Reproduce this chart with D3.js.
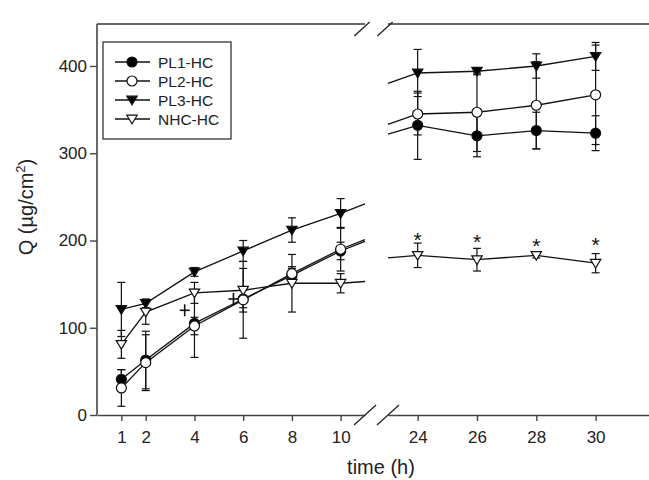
<!DOCTYPE html>
<html>
<head>
<meta charset="utf-8">
<script src="https://cdn.jsdelivr.net/npm/d3@7"></script>
<style>
  body { margin: 0; background: #fff; }
  svg { display: block; font-family: "Liberation Sans", Arial, sans-serif; }
</style>
</head>
<body>
<svg id="chart" width="649" height="480"></svg>
<script>
// time points (h), left and right of the axis break
var times = [1, 2, 4, 6, 8, 10, 24, 26, 28, 30];
var leftTicks = [1, 2, 4, 6, 8, 10];
var rightTicks = [24, 26, 28, 30];
var yTicks = [0, 100, 200, 300, 400];

// Q (ug/cm2) per formulation, with error bars
var pl1 = [41, 63, 105, 133, 160, 188, 332, 320, 326, 323];
var pl1Err = [11, 33, 39, 10, 8, 10, 39, 24, 21, 20];
var pl2 = [31, 60, 102, 132, 162, 190, 345, 347, 355, 367];
var pl2Err = [21, 32, 10, 44, 8, 25, 24, 45, 50, 57];
var pl3 = [121, 128, 164, 188, 212, 231, 392, 394, 400, 411];
var pl3Err = [31, 5, 5, 12, 14, 17, 27, 4, 14, 16];
var nhc = [81, 118, 140, 143, 151, 151, 183, 178, 183, 174];
var nhcErr = [16, 14, 12, 25, 33, 11, 14, 13, 3, 11];

// line stubs running into the break (t = 11 on the left, t = 23 on the right)
var stubLeft = [199, 201, 242, 153];
var stubRight = [322, 333, 380, 180];

// significance marks above NHC-HC at 24-30 h
var starTimes = [24, 26, 28, 30];
var starValues = [206, 204, 200, 201];

// stray cross marks in the left panel
var crossTimes = [3.6, 5.6];
var crossValues = [120, 133];

var seriesNames = ['PL1-HC', 'PL2-HC', 'PL3-HC', 'NHC-HC'];

var svg = d3.select('#chart');

var yBase = 415, yTopFrame = 24;
var y = d3.scaleLinear().domain([0, 400]).range([yBase, 66]);
var xl = d3.scaleLinear().domain([0, 11]).range([97, 365]);
var xr = d3.scaleLinear().domain([23, 31.8]).range([388, 649]);
function x(t) { return t <= 11 ? xl(t) : xr(t); }

var series = [
  { name: seriesNames[0], values: pl1, err: pl1Err, shape: 'circle', fill: '#000' },
  { name: seriesNames[1], values: pl2, err: pl2Err, shape: 'circle', fill: '#fff' },
  { name: seriesNames[2], values: pl3, err: pl3Err, shape: 'tri', fill: '#000' },
  { name: seriesNames[3], values: nhc, err: nhcErr, shape: 'tri', fill: '#fff' }
];
series.forEach(function(s, i) {
  s.points = times.map(function(t, j) { return { t: t, v: s.values[j], e: s.err[j] }; });
  s.left = s.points.filter(function(p) { return p.t <= 11; }).concat([{ t: 11, v: stubLeft[i] }]);
  s.right = [{ t: 23, v: stubRight[i] }].concat(s.points.filter(function(p) { return p.t > 11; }));
});

var ink = '#111';
var axisCol = '#444';

// Frame (top) with break
svg.append('line').attr('x1', xl(0)).attr('x2', xl(11)).attr('y1', yTopFrame).attr('y2', yTopFrame)
  .attr('stroke', '#666').attr('stroke-width', 2);
svg.append('line').attr('x1', xr(23)).attr('x2', 649).attr('y1', yTopFrame).attr('y2', yTopFrame)
  .attr('stroke', '#666').attr('stroke-width', 2);

// Y axis
var yAxis = svg.append('g')
  .attr('transform', 'translate(' + xl(0) + ',0)')
  .call(d3.axisLeft(y).tickValues(yTicks).tickSize(7).tickPadding(3).tickSizeOuter(0));
yAxis.select('.domain').attr('d', 'M0,' + yTopFrame + 'V' + yBase);

// X axes, two segments
var xAxisL = svg.append('g')
  .attr('transform', 'translate(0,' + yBase + ')')
  .call(d3.axisBottom(xl).tickValues(leftTicks).tickSize(6).tickPadding(10).tickSizeOuter(0));
var xAxisR = svg.append('g')
  .attr('transform', 'translate(0,' + yBase + ')')
  .call(d3.axisBottom(xr).tickValues(rightTicks).tickSize(6).tickPadding(10).tickSizeOuter(0));

[yAxis, xAxisL, xAxisR].forEach(function(g) {
  g.selectAll('.domain').attr('stroke', axisCol).attr('stroke-width', 1.6);
  g.selectAll('.tick line').attr('stroke', axisCol).attr('stroke-width', 1.4);
  g.selectAll('.tick text').attr('fill', '#222').style('font-size', '17px');
});

// Break slashes on axis and frame
function slash(cx, cy, len) {
  svg.append('line')
    .attr('x1', cx - len * 0.55).attr('y1', cy + len * 0.5)
    .attr('x2', cx + len * 0.55).attr('y2', cy - len * 0.5)
    .attr('stroke', '#222').attr('stroke-width', 1.3);
}
[xl(11), xr(23)].forEach(function(bx) {
  slash(bx, yBase, 20);
  slash(bx - 3, yTopFrame + 5, 14);
});

// Error bars
var capW = 4;
var ebars = svg.append('g').attr('stroke', ink).attr('stroke-width', 1.2);
series.forEach(function(s) {
  s.points.forEach(function(p) {
    var px = x(p.t);
    ebars.append('line').attr('x1', px).attr('x2', px).attr('y1', y(p.v - p.e)).attr('y2', y(p.v + p.e));
    [p.v - p.e, p.v + p.e].forEach(function(v) {
      ebars.append('line').attr('x1', px - capW).attr('x2', px + capW).attr('y1', y(v)).attr('y2', y(v));
    });
  });
});

// Stray crosses
var crosses = svg.append('g').attr('stroke', ink).attr('stroke-width', 1.6);
crossTimes.forEach(function(t, i) {
  var cx = x(t), cy = y(crossValues[i]);
  crosses.append('line').attr('x1', cx - 5).attr('x2', cx + 5).attr('y1', cy).attr('y2', cy);
  crosses.append('line').attr('x1', cx).attr('x2', cx).attr('y1', cy - 6).attr('y2', cy + 6);
});

// Lines
var line = d3.line().x(function(p) { return x(p.t); }).y(function(p) { return y(p.v); });
series.forEach(function(s) {
  [s.left, s.right].forEach(function(seg) {
    svg.append('path').datum(seg).attr('d', line)
      .attr('fill', 'none').attr('stroke', ink).attr('stroke-width', 1.3);
  });
});

// Markers
var triPath = 'M-5.2,-3.8L5.2,-3.8L0,4.8Z';
function marker(g, s, cx, cy) {
  if (s.shape === 'circle') {
    g.append('circle').attr('cx', cx).attr('cy', cy).attr('r', 5)
      .attr('fill', s.fill).attr('stroke', ink).attr('stroke-width', 1.2);
  } else {
    g.append('path').attr('d', triPath).attr('transform', 'translate(' + cx + ',' + cy + ')')
      .attr('fill', s.fill).attr('stroke', ink).attr('stroke-width', 1.2);
  }
}
var marks = svg.append('g');
series.forEach(function(s) {
  s.points.forEach(function(p) { marker(marks, s, x(p.t), y(p.v)); });
});

// Asterisks
svg.append('g').selectAll('text').data(starTimes).enter().append('text')
  .attr('x', function(t) { return x(t); })
  .attr('y', function(t, i) { return y(starValues[i]) + 12; })
  .attr('text-anchor', 'middle')
  .style('font-size', '21px')
  .attr('fill', '#111')
  .text('*');

// Legend
var legend = svg.append('g');
legend.append('rect').attr('x', 103).attr('y', 42).attr('width', 128).attr('height', 97)
  .attr('fill', '#fff').attr('stroke', '#333').attr('stroke-width', 1.3);
series.forEach(function(s, i) {
  var ly = 62 + i * 19;
  legend.append('line').attr('x1', 115).attr('x2', 150).attr('y1', ly).attr('y2', ly)
    .attr('stroke', ink).attr('stroke-width', 1.3);
  marker(legend, s, 132, ly);
  legend.append('text').attr('x', 158).attr('y', ly + 5.5)
    .style('font-size', '15.5px').attr('fill', '#222').text(s.name);
});

// Axis titles
svg.append('text')
  .attr('x', 381).attr('y', 474)
  .attr('text-anchor', 'middle')
  .style('font-size', '20px').attr('fill', '#222')
  .text('time (h)');

var yt = svg.append('text')
  .attr('transform', 'translate(33,207) rotate(-90)')
  .attr('text-anchor', 'middle')
  .style('font-size', '20px').attr('fill', '#222');
yt.append('tspan').text('Q (\u00b5g/cm');
yt.append('tspan').attr('dy', -8).style('font-size', '13px').text('2');
yt.append('tspan').attr('dy', 8).text(')');
</script>
</body>
</html>
